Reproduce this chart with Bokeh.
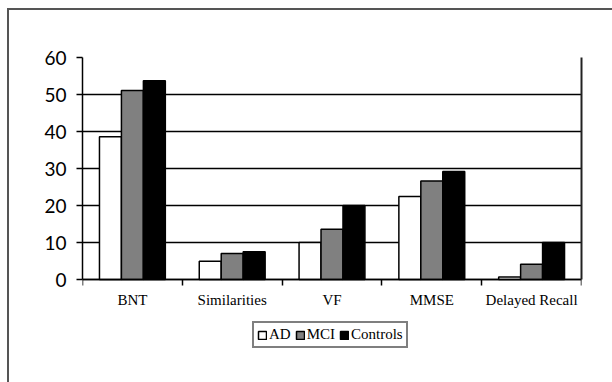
from bokeh.plotting import figure
from bokeh.models import (ColumnDataSource, FixedTicker, Legend, LegendItem, Range1d,
                          InlineStyleSheet, LinearAxis)
from bokeh.transform import dodge
from bokeh.embed import file_html
from bokeh.resources import INLINE

categories = ["BNT", "Similarities", "VF", "MMSE", "Delayed Recall"]
ad = [38.6, 4.9, 10.0, 22.4, 0.7]
mci = [51.1, 7.0, 13.6, 26.6, 4.1]
controls = [53.7, 7.5, 20.0, 29.2, 10.0]
y_ticks = [0, 10, 20, 30, 40, 50, 60]

pos = [i + 0.5 for i in range(len(categories))]
src = ColumnDataSource(dict(x=pos, ad=ad, mci=mci, controls=controls))

# frame spans from y=57 (value 60) to y=350 px; value 0 sits at y=279 px
px_per_unit = (279 - 57) / 60.0
y_start = -(350 - 279) / px_per_unit

p = figure(width=612, height=382, output_backend="svg", toolbar_location=None,
           x_range=Range1d(0, len(categories)), y_range=Range1d(y_start, 60),
           min_border_left=82, min_border_right=31, min_border_top=57,
           min_border_bottom=32)
p.background_fill_color = "white"
p.border_fill_color = "white"
p.outline_line_color = None

bw = 0.22
r_ad = p.vbar(x=dodge("x", -bw, range=p.x_range), top="ad", width=bw, source=src,
              fill_color="white", line_color="black", line_width=1.5)
r_mci = p.vbar(x="x", top="mci", width=bw, source=src,
               fill_color="#808080", line_color="black", line_width=1.5)
r_ctl = p.vbar(x=dodge("x", bw, range=p.x_range), top="controls", width=bw, source=src,
               fill_color="black", line_color="black", line_width=1.5)

p.xgrid.visible = False
p.ygrid.grid_line_color = "black"
p.ygrid.grid_line_width = 1.5
p.ygrid.ticker = FixedTicker(ticks=y_ticks)

p.yaxis.ticker = FixedTicker(ticks=y_ticks)
p.yaxis.bounds = (0, 60)
p.yaxis.major_tick_out = 6
p.yaxis.major_tick_in = 0
p.yaxis.minor_tick_out = 0
p.yaxis.axis_line_width = 1.5
p.yaxis.major_tick_line_width = 1.5
p.yaxis.major_label_text_font = "Lato"
p.yaxis.major_label_text_font_size = "19px"
p.yaxis.major_label_text_color = "black"
p.yaxis.major_label_standoff = 10

p.xaxis.fixed_location = 0
p.xaxis.ticker = FixedTicker(ticks=pos, minor_ticks=list(range(len(categories) + 1)))
p.xaxis.major_label_overrides = {pos[i]: categories[i] for i in range(len(categories))}
p.xaxis.major_tick_out = 0
p.xaxis.major_tick_in = 0
p.xaxis.minor_tick_out = 6
p.xaxis.minor_tick_in = 0
p.xaxis.minor_tick_line_width = 1.5
p.xaxis.axis_line_width = 1.5
p.xaxis.major_label_text_font = "Liberation Serif"
p.xaxis.major_label_text_font_size = "15px"
p.xaxis.major_label_text_color = "black"
p.xaxis.major_label_standoff = 6

right_axis = LinearAxis(bounds=(0, 60), ticker=FixedTicker(ticks=[0, 60]),
                        major_tick_out=0, major_tick_in=0, minor_tick_out=0,
                        minor_tick_in=0, major_label_text_alpha=0,
                        major_label_text_font_size="1px",
                        axis_line_width=2, axis_line_color="#222222")
p.add_layout(right_axis, "right")

legend = Legend(items=[LegendItem(label="AD", renderers=[r_ad]),
                       LegendItem(label="MCI", renderers=[r_mci]),
                       LegendItem(label="Controls", renderers=[r_ctl])],
                orientation="horizontal", location=(170, 2))
legend.border_line_color = "black"
legend.border_line_width = 2
legend.background_fill_color = "white"
legend.label_text_font = "Liberation Serif"
legend.label_text_font_size = "15px"
legend.label_text_color = "black"
legend.label_standoff = 2
legend.glyph_width = 10
legend.glyph_height = 10
legend.spacing = 4
legend.padding = 3
legend.margin = 0
legend.label_height = 14
p.add_layout(legend, "center")

p.stylesheets = [InlineStyleSheet(css="""
:host { position: relative; }
:host::after {
  content: ""; position: absolute; left: 7px; top: 8px; width: 700px; height: 500px;
  border-top: 2px solid #555555; border-left: 2px solid #555555;
  pointer-events: none; box-sizing: border-box;
}
""")]

open("out.html", "w").write(file_html(p, INLINE))
